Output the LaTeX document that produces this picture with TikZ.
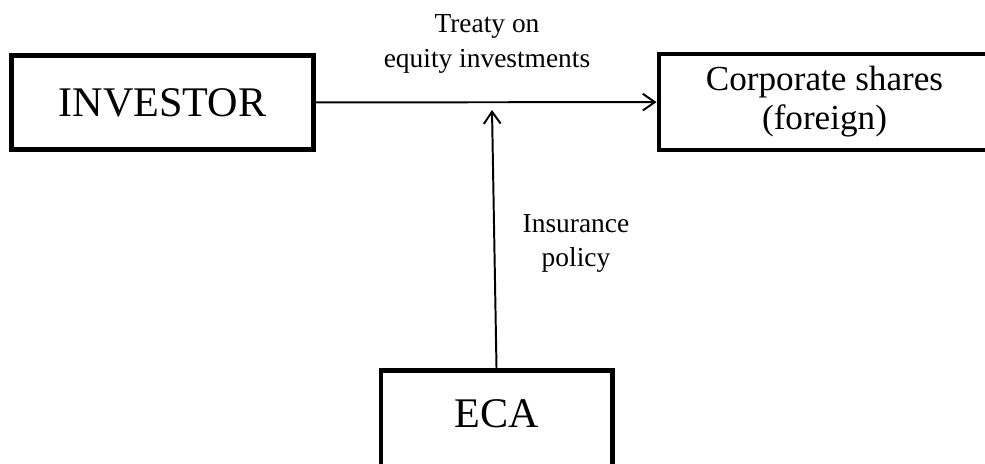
\documentclass[tikz,border=0pt]{standalone}
\usepackage{fontspec}
\setmainfont{Liberation Serif}
\usetikzlibrary{arrows.meta,positioning,calc}

\begin{document}
\begin{tikzpicture}[x=0.025cm,y=-0.025cm]
    \useasboundingbox (0,0) rectangle (985,464);
    \tikzset{BoxStyle/.style = {draw,
        rectangle,
        line width = 3.5pt,
        align  = center},
      EdgeStyle/.style = {-{Straight Barb[length=0.3cm,width=0.42cm]}, line width=1.4pt},
      LabelStyle/.style = {align=center, font=\fontsize{19.5pt}{24.5pt}\selectfont}}
    \node[BoxStyle,minimum width=7.55cm,minimum height=2.35cm,
      font=\fontsize{30pt}{36pt}\selectfont] (investor) at (162.5,102.5) {INVESTOR};
    \node[BoxStyle,minimum width=8.275cm,minimum height=2.4cm,
      font=\fontsize{25pt}{27.7pt}\selectfont] (shares) at (824.5,102) {Corporate shares\\(foreign)};
    \node[BoxStyle,minimum width=5.775cm,minimum height=2.4cm,text depth=0.25cm,
      font=\fontsize{30pt}{36pt}\selectfont] (eca) at (496.5,418.5) {ECA};
    \coordinate (treaty) at (492,110);

    \draw[EdgeStyle] (investor) -- (shares);
    \draw[EdgeStyle] (eca.north) -- (treaty);

    \node[LabelStyle] (treatylabel) at (487,44) {Treaty on\\equity investments};
    \node[LabelStyle] (policylabel) at (576,243.5) {Insurance\\policy};
\end{tikzpicture}
\end{document}
